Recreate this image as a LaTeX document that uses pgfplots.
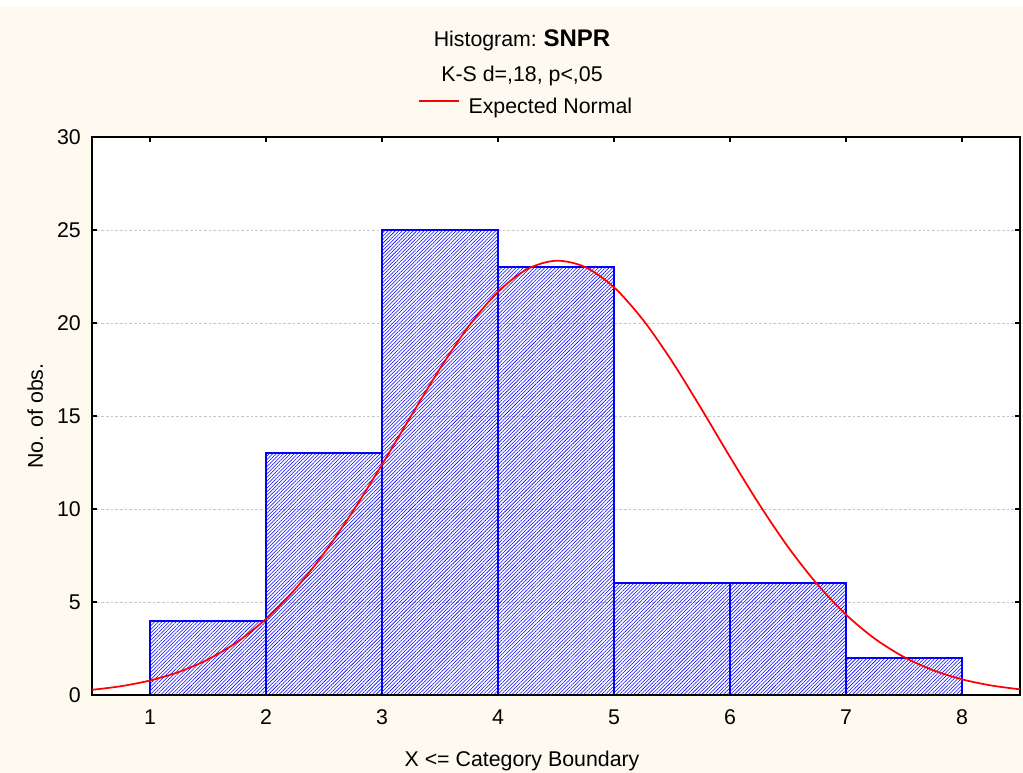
\documentclass[border=0pt]{standalone}
\usepackage{fontspec}
\setmainfont{Liberation Sans}
\usepackage{pgfplots}
\pgfplotsset{compat=1.18}
\usetikzlibrary{patterns.meta}
\definecolor{cream}{RGB}{254,250,240}
\definecolor{barblue}{RGB}{0,0,255}
\definecolor{curvered}{RGB}{255,0,0}
\begin{document}
\fontsize{16}{19}\selectfont
\begin{tikzpicture}
% background: 1023x773 px at 0.75pt/px; axis SW at (92px,695px)
\fill[white] (-69pt,-58.5pt) rectangle (698.25pt,521.25pt);
\fill[cream] (-69pt,-58.5pt) rectangle (698.25pt,516pt);
\begin{axis}[
  at={(0,0)}, anchor=south west,
  scale only axis, width=696pt, height=418.5pt,
  xmin=0.5, xmax=8.5, ymin=0, ymax=30,
  xtick={1,2,3,4,5,6,7,8},
  ytick={0,5,10,15,20,25,30},
  tick align=inside,
  major tick length=3.75pt,
  tick style={black, line width=0.8pt},
  axis line style={black, line width=1.2pt},
  axis background/.style={fill=white},
  ymajorgrids,
  grid style={gray!45, line width=0.5pt, dash pattern=on 2pt off 1.5pt},
  /pgf/number format/assume math mode=true,
  tick label style={font=\fontsize{16}{19}\selectfont},
  xticklabel style={anchor=base, inner sep=0pt, yshift=-22.5pt},
  yticklabel style={anchor=east, inner sep=0pt, xshift=-8.25pt},
  xlabel={X <= Category Boundary},
  ylabel={No. of obs.},
  label style={font=\fontsize{16}{19}\selectfont},
  xlabel style={at={(axis description cs:0.4634,0)}, anchor=base, yshift=-53.25pt, inner sep=0pt},
  ylabel style={at={(axis description cs:0,0.5)}, anchor=base, yshift=36.75pt, inner sep=0pt},
  legend style={draw=none, fill=none, at={(0.4666,1)}, anchor=center, yshift=22pt,
    font=\fontsize{16}{19}\selectfont, inner sep=0pt, column sep=6.75pt,
    nodes={inner sep=0pt}},
  legend cell align=left,
  clip=true,
]
\addplot[ybar interval=1, draw=barblue, line width=1.6pt,
  pattern={Lines[angle=45,distance=1.9pt,line width=0.42pt]}, pattern color=barblue,
  forget plot]
coordinates {(1,4) (2,13) (3,25) (4,23) (5,6) (6,6) (7,2) (8,2)};
\addplot[curvered, line width=1.3pt, smooth, no markers,
  legend image code/.code={\draw[curvered, line width=1.3pt] (0pt,0.6ex) -- (30pt,0.6ex);}]
coordinates {
(0.5,0.277) (0.75,0.473) (1.0,0.780) (1.25,1.242) (1.5,1.913) (1.75,2.844)
(2.0,4.09) (2.25,5.68) (2.5,7.62) (2.75,9.89) (3.0,12.39) (3.25,15.00)
(3.5,17.55) (3.75,19.85) (4.0,21.68) (4.25,22.89) (4.5,23.35) (4.75,23.01)
(5.0,21.92) (5.25,20.17) (5.5,17.94) (5.75,15.42) (6.0,12.80) (6.25,10.27)
(6.5,7.96) (6.75,5.97) (7.0,4.32) (7.25,3.02) (7.5,2.04) (7.75,1.334)
(8.0,0.842) (8.25,0.513) (8.5,0.303)};
\addlegendentry{Expected Normal}
\draw[black, line width=1.2pt] (rel axis cs:0,0) -- (rel axis cs:1,0);
\end{axis}
\node[anchor=base, inner sep=0pt] at (322.5pt,486pt) {Histogram:\hspace{5pt}{\fontsize{18}{20}\selectfont\bfseries SNPR}};
\node[anchor=base, inner sep=0pt] at (322.5pt,459.75pt) {K-S d=,18, p<,05};
\end{tikzpicture}
\end{document}
